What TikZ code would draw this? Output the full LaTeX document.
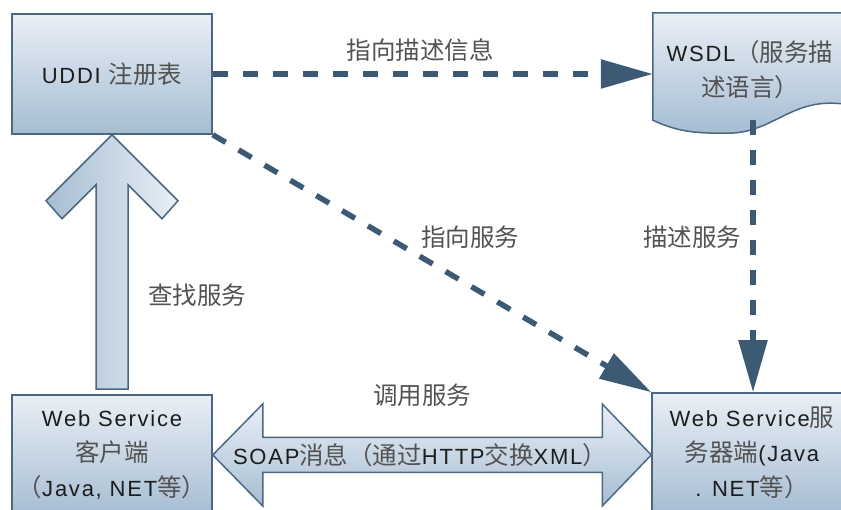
\documentclass[tikz,border=0pt]{standalone}
\usepackage{fontspec}
\setmainfont{Liberation Sans}[LetterSpace=8]
\newfontfamily\cjkfont{Noto Sans CJK SC}
\usetikzlibrary{arrows.meta,calc}
\definecolor{edgeblue}{RGB}{74,104,130}
\definecolor{linkblue}{RGB}{60,90,116}
\definecolor{fillhi}{RGB}{233,239,246}
\definecolor{filllo}{RGB}{166,189,210}
\definecolor{latin}{RGB}{28,28,28}
\definecolor{zhgray}{RGB}{82,82,82}
% Chinese runs: CJK face, slightly larger, grey
\newcommand{\zh}[1]{{\fontsize{24.5}{35}\selectfont\cjkfont\color{zhgray}#1}}
\begin{document}
\begin{tikzpicture}[x=1pt,y=-1pt,
  every node/.style={font=\fontsize{22}{35}\selectfont, text=latin},
  box/.style={draw=edgeblue, line width=1.5pt, top color=fillhi, bottom color=filllo,
    minimum width=200pt, minimum height=120pt, inner sep=0pt, align=center},
  dashlink/.style={draw=linkblue, line width=5.5pt, dash pattern=on 15pt off 15pt,
    -{Triangle[length=52pt,width=28pt]}},
  blockarrow/.style={draw=edgeblue, line width=1.5pt, line join=miter},
  lbl/.style={inner sep=0pt, align=center}
]
\useasboundingbox (0,0) rectangle (841,510);
\clip (0,0) rectangle (841,510);

% registry, client and server boxes
\node[box] (uddi) at (112,74) {UDDI \zh{注册表}};
\node[box] (client) at (112,455) {Web Service\\\zh{客户端}\\\zh{（}Java, NET\zh{等）}};
\node[box] (server) at (752,453) {Web Service\zh{服}\\\zh{务器端}(Java\\. NET\zh{等）}};

% WSDL document shape with wavy bottom edge
\node[minimum width=200pt, minimum height=122pt, inner sep=0pt] (wsdl) at (753,74) {};
\path[draw=edgeblue, line width=1.5pt, top color=fillhi, bottom color=filllo]
  (wsdl.north west) -- (wsdl.north east) -- ($(wsdl.south east)+(0,-31)$)
  to[out=180,in=0] ($(wsdl.south west)+(177,-32)$)
  to[out=180,in=0] ($(wsdl.south west)+(75,-2)$)
  to[out=180,in=-25] ($(wsdl.south west)+(0,-15)$) -- cycle;
\node[lbl] (wsdltext) at (750,70) {WSDL\zh{（服务描}\\\zh{述语言）}};

% lookup: block arrow from client up to the registry
\draw[blockarrow, left color=filllo, right color=fillhi]
  (uddi.south) -- ($(uddi.south)+(66,66)$) -- ($(uddi.south)+(50,84)$)
  -- ($(uddi.south)+(16,50)$) -- ($(client.north)+(16,-5)$)
  -- ($(client.north)+(-16,-5)$) -- ($(uddi.south)+(-16,50)$)
  -- ($(uddi.south)+(-50,84)$) -- ($(uddi.south)+(-66,66)$) -- cycle;

% SOAP exchange: double block arrow between client and server
\coordinate (rtip) at (server.west |- client.east);
\draw[blockarrow, top color=fillhi, bottom color=filllo]
  (client.east) -- ($(client.east)+(50,-51)$) -- ($(client.east)+(50,-17.5)$)
  -- ($(rtip)+(-49,-17.5)$) -- ($(rtip)+(-49,-51)$) -- (rtip)
  -- ($(rtip)+(-49,51)$) -- ($(rtip)+(-49,17.5)$)
  -- ($(client.east)+(50,17.5)$) -- ($(client.east)+(50,51)$) -- cycle;

% dashed references
\draw[dashlink] (uddi.east) -- (wsdl.west);
\draw[dashlink] (uddi.south east) -- (server.north west);
\draw[dashlink] ([yshift=15pt]wsdl.south) -- (wsdl.south |- server.north);

% labels
\node[lbl] (ldesc) at (420,50) {\zh{指向描述信息}};
\node[lbl] (lpoint) at (470,237) {\zh{指向服务}};
\node[lbl] (ldescribe) at (692,237) {\zh{描述服务}};
\node[lbl] (lfind) at (197,295) {\zh{查找服务}};
\node[lbl] (lcall) at (422,395) {\zh{调用服务}};
\node[lbl] (lsoap) at (420,455) {SOAP\zh{消息（通过}HTTP\zh{交换}XML\zh{）}};
\end{tikzpicture}
\end{document}
